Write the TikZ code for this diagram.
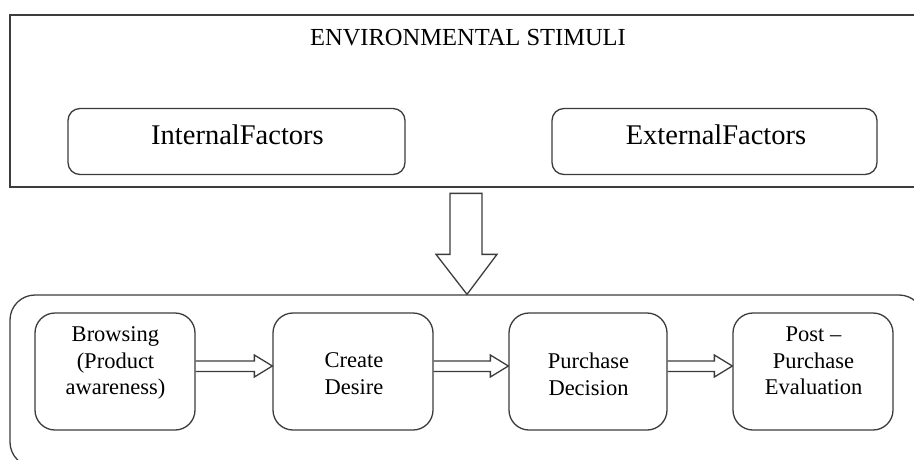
\documentclass[tikz,border=0pt]{standalone}
\usepackage{fontspec}
\setmainfont{Liberation Serif}
\usetikzlibrary{calc}
\definecolor{ln}{RGB}{60,60,60}
\newcommand\flowarrow[2]{%
  \draw[outl] ($(#1.east)+(0,-10.5)$) -- ($(#2.west)+(-18,-10.5)$) -- ++(0,-6)
    -- ($(#2.west)+(0,-5.5)$) -- ($(#2.west)+(-18,5.5)$) -- ++(0,-5.5) -- (#1.east);}
\begin{document}
\begin{tikzpicture}[x=1pt,y=-1pt,
  outl/.style={draw=ln, line width=1.3pt, line join=miter},
  frame/.style={outl, rectangle, inner sep=0pt},
  factor/.style={outl, rectangle, rounded corners=12pt, inner sep=0pt, minimum height=66pt},
  procbox/.style={outl, rectangle, rounded corners=20pt, inner sep=0pt, minimum width=160pt, minimum height=117pt},
  boxtext/.style={align=center, inner sep=0pt, font=\fontsize{22.5}{26.7}\selectfont},
  factortext/.style={inner sep=0pt, font=\fontsize{28.5}{34}\selectfont},
  titletext/.style={inner sep=0pt, font=\fontsize{24.5}{29}\selectfont}]
\useasboundingbox (0,0) rectangle (914,459);
\clip (0,0) rectangle (914,459);
% environmental stimuli frame
\node[frame, minimum width=912pt, minimum height=172pt] (env) at (466,101) {};
\node[titletext] (title) at (468,37.5) {ENVIRONMENTAL STIMULI};
\node[factor, minimum width=337pt] (int) at (236.5,141.5) {};
\node[factortext] (intt) at (237.5,134.5) {InternalFactors};
\node[factor, minimum width=325pt] (ext) at (714.5,141.5) {};
\node[factortext] (extt) at (716,134.5) {ExternalFactors};
% process frame
\node[outl, rectangle, rounded corners=25pt, inner sep=0pt, minimum width=914pt, minimum height=172pt] (proc) at (467,381) {};
% big hollow arrow
\draw[outl] (proc.north) -- ++(-31,-40) -- ++(14,0) -- ++(0,-61) -- ++(32,0) -- ++(0,61) -- ++(15,0) -- cycle;
% process boxes
\node[procbox] (b1) at (115,371.5) {};
\node[procbox] (b2) at (353,371.5) {};
\node[procbox, minimum width=158pt] (b3) at (588,371.5) {};
\node[procbox] (b4) at (813,371.5) {};
\node[boxtext] (t1) at (115.5,363) {Browsing\\(Product\\awareness)};
\node[boxtext] (t2) at (354,374) {Create\\Desire};
\node[boxtext] (t3) at (588.5,374) {Purchase\\Decision};
\node[boxtext] (t4) at (813.5,361) {Post --\\Purchase\\Evaluation};
\flowarrow{b1}{b2}
\flowarrow{b2}{b3}
\flowarrow{b3}{b4}
\end{tikzpicture}
\end{document}
